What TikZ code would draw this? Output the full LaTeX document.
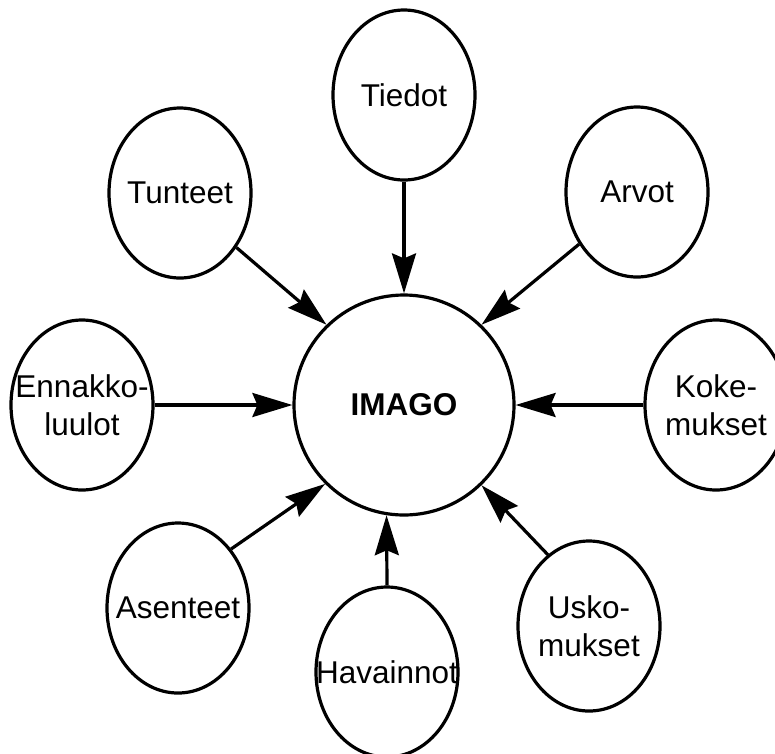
\documentclass[tikz,border=0pt]{standalone}
\usepackage{fontspec}
\setmainfont{Liberation Sans}
\usetikzlibrary{shapes.geometric,arrows.meta}
\begin{document}
\begin{tikzpicture}[x=1pt,y=-1pt,
  bubble/.style={ellipse,draw,line width=3.2pt,minimum width=142pt,minimum height=170pt,inner sep=0pt},
  lbl/.style={inner sep=0pt,align=center,font=\fontsize{31.5}{38}\selectfont},
  hub/.style={circle,draw,line width=3.2pt,minimum size=220pt,inner sep=0pt,font=\fontsize{31.5}{38}\selectfont\bfseries},
  feed/.style={line width=3.2pt,-{Stealth[length=40pt,width=24pt,inset=5pt]}}]
\useasboundingbox (0,0) rectangle (775,753);
\clip (0,0) rectangle (775,753);

% central concept
\node[hub] (imago) at (404,405) {IMAGO};

% surrounding concepts
\node[bubble] (tiedot)    at (404,95)  {};
\node[bubble] (tunteet)   at (180,193) {};
\node[bubble] (arvot)     at (637,192) {};
\node[bubble] (ennakko)   at (82,405)  {};
\node[bubble] (koke)      at (716,405) {};
\node[bubble] (asenteet)  at (178,608) {};
\node[bubble] (havainnot) at (387,672) {};
\node[bubble] (usko)      at (589,626) {};

\node[lbl] (tiedotT)    at (tiedot)    {Tiedot};
\node[lbl] (tunteetT)   at (tunteet)   {Tunteet};
\node[lbl] (arvotT)     at (arvot)     {Arvot};
\node[lbl] (ennakkoT)   at (ennakko)   {Ennakko-\\luulot};
\node[lbl] (kokeT)      at (koke)      {Koke-\\mukset};
\node[lbl] (asenteetT)  at (asenteet)  {Asenteet};
\node[lbl] (havainnotT) at (havainnot) {Havainnot};
\node[lbl] (uskoT)      at (usko)      {Usko-\\mukset};

% influences pointing inward
\draw[feed] (tiedot.south)     -- (imago.north);
\draw[feed] (tunteet.-44.5)    -- (imago.134);
\draw[feed] (arvot.222.5)      -- (imago.46);
\draw[feed] (ennakko.east)     -- (imago.west);
\draw[feed] (koke.west)        -- (imago.east);
\draw[feed] (asenteet.48.5)    -- (imago.225.7);
\draw[feed] (havainnot.north)  -- (imago.261);
\draw[feed] (usko.120)         -- (imago.314);
\end{tikzpicture}
\end{document}
